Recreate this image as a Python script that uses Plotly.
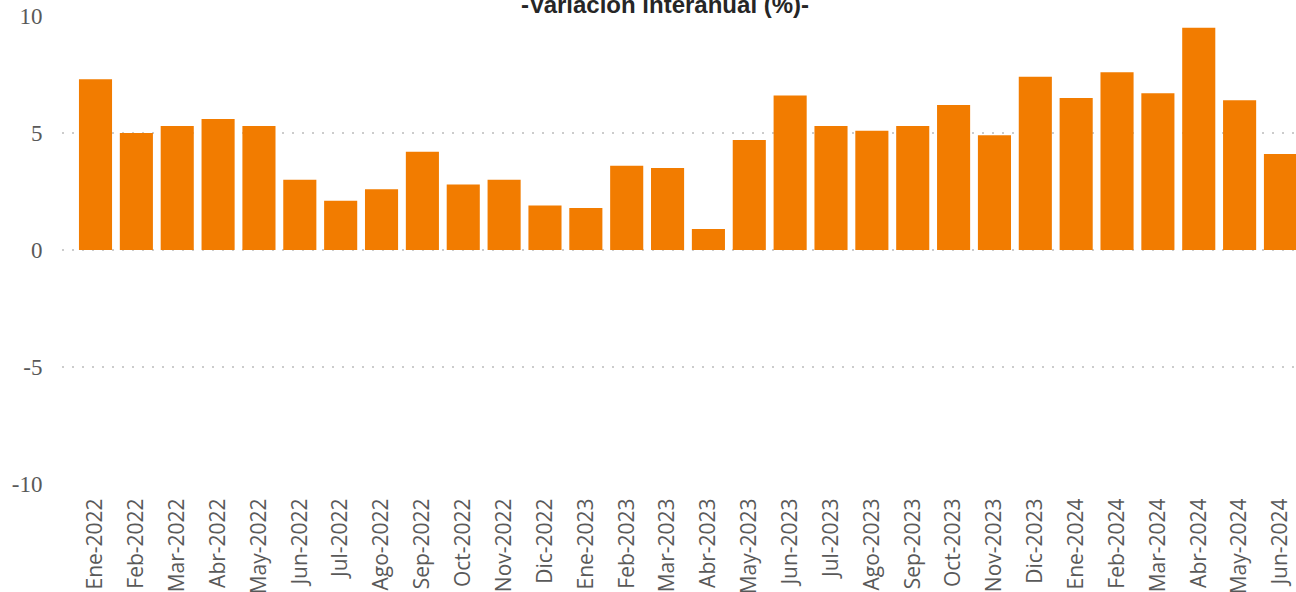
import plotly.graph_objects as go

# ================= DATA =================
meses = [
    "Ene-2022", "Feb-2022", "Mar-2022", "Abr-2022", "May-2022", "Jun-2022",
    "Jul-2022", "Ago-2022", "Sep-2022", "Oct-2022", "Nov-2022", "Dic-2022",
    "Ene-2023", "Feb-2023", "Mar-2023", "Abr-2023", "May-2023", "Jun-2023",
    "Jul-2023", "Ago-2023", "Sep-2023", "Oct-2023", "Nov-2023", "Dic-2023",
    "Ene-2024", "Feb-2024", "Mar-2024", "Abr-2024", "May-2024", "Jun-2024",
]
variacion = [
    7.3, 5.0, 5.3, 5.6, 5.3, 3.0,
    2.1, 2.6, 4.2, 2.8, 3.0, 1.9,
    1.8, 3.6, 3.5, 0.9, 4.7, 6.6,
    5.3, 5.1, 5.3, 6.2, 4.9, 7.4,
    6.5, 7.6, 6.7, 9.5, 6.4, 4.1,
]
y_ticks = [-10, -5, 0, 5, 10]

fig = go.Figure()

# ================= BARS =================
fig.add_trace(go.Bar(
    x=meses,
    y=variacion,
    marker=dict(color="#F27C00", line=dict(width=0)),
    width=0.81,
    name="Variación",
))

# ================= LAYOUT =================
fig.update_layout(
    width=1296,
    height=592,
    margin=dict(l=62, r=0, t=16, b=108),
    paper_bgcolor="white",
    plot_bgcolor="white",
    showlegend=False,
    title=dict(
        text="<b>-Variación interanual (%)-</b>",
        font=dict(family="Liberation Sans, Arial", size=24, color="#262626"),
        x=665 / 1296,
        xref="container",
        xanchor="center",
        y=1 - 5 / 592,
        yref="container",
        yanchor="middle",
    ),
)

fig.update_xaxes(
    range=[-0.82, 29.38],
    tickangle=-90,
    tickfont=dict(family="Open Sans, DejaVu Sans", size=21, color="#595959"),
    ticks="outside",
    ticklen=5,
    tickcolor="rgba(0,0,0,0)",
    showgrid=False,
    showline=False,
    zeroline=False,
    automargin=False,
)

fig.update_yaxes(
    range=[-10, 10],
    tickvals=y_ticks,
    ticktext=[str(v) for v in y_ticks],
    tickfont=dict(family="Liberation Serif, Times New Roman", size=23, color="#595959"),
    ticks="outside",
    ticklen=14,
    tickcolor="rgba(0,0,0,0)",
    showgrid=True,
    gridcolor="#cccccc",
    gridwidth=2,
    griddash="2px,8px",
    zeroline=False,
    showline=False,
    automargin=False,
)

# page body has a default margin, drop it so the chart sits at 0,0
fig.write_html(
    "out.html",
    config={"displayModeBar": False},
    post_script="document.body.style.margin='0';",
)
